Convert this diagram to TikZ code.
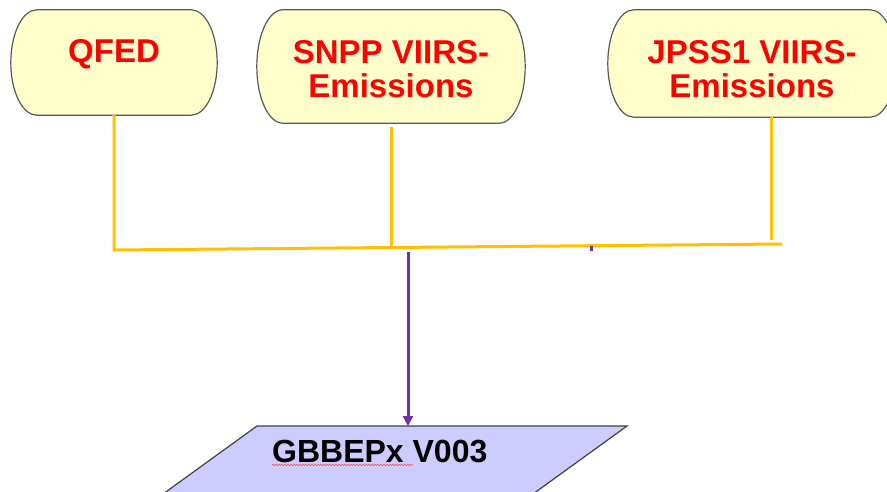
\documentclass[tikz,border=0pt]{standalone}
\usepackage{fontspec}
\setmainfont{Liberation Sans}
\usetikzlibrary{arrows.meta,calc,backgrounds,decorations.pathmorphing}
\definecolor{capfill}{HTML}{FFFFCC}
\definecolor{capedge}{HTML}{595959}
\definecolor{feedline}{HTML}{FFC000}
\definecolor{flowline}{HTML}{7030A0}
\definecolor{outfill}{HTML}{CCCCFF}
\definecolor{outedge}{HTML}{404040}
% capsule outline with elliptical ends round a node
\newcommand{\capsule}[1]{%
  \filldraw[capline] let \p1=(#1.north west), \p2=(#1.south east), \n1={(\y1-\y2)/2} in
    (\x1+26pt,\y1) -- (\x2-26pt,\y1)
    arc[start angle=90,end angle=-90,x radius=26pt,y radius=\n1]
    -- (\x1+26pt,\y2)
    arc[start angle=270,end angle=90,x radius=26pt,y radius=\n1] -- cycle;}
\begin{document}
\begin{tikzpicture}[x=1pt,y=-1pt,
src/.style={align=center,text=red,font=\fontsize{33}{34}\selectfont\bfseries},
capline/.style={fill=capfill,draw=capedge,line width=1.2pt},
feed/.style={draw=feedline,line width=3pt},
flow/.style={draw=flowline,line width=3pt},
outtext/.style={inner sep=0pt,font=\fontsize{32}{34}\selectfont\bfseries},
outline/.style={fill=outfill,draw=outedge,line width=1.2pt}]
\useasboundingbox (0,0) rectangle (887,491);
\node[src,minimum width=206pt,minimum height=105pt,text height=24pt,text depth=24.6pt](qfed) at (114,62.5){QFED};
\node[src,minimum width=268pt,minimum height=113pt,text height=61pt,text depth=0pt](snpp) at (391,66.5){SNPP VIIRS-\\Emissions};
\node[src,minimum width=288pt,minimum height=107pt,text height=67pt,text depth=0pt](jpss) at (752,63.5){JPSS1 VIIRS-\\Emissions};
\node[outtext,anchor=base west](gbb) at (272,462){GBBEPx V003};
\coordinate (busL) at (114,250);
\coordinate (busM) at (391,247);
\coordinate (busR) at (782,244);
\coordinate (jpssEnd) at (771,240);
\coordinate (tickT) at (591,246);
\coordinate (tickB) at (591,251);
\coordinate (flowS) at (408,252);
\coordinate (gtop) at (408,426);
\begin{scope}[on background layer]
\capsule{qfed}\capsule{snpp}\capsule{jpss}
\filldraw[outline] (257,426) -- (627,426) -- (497,520) -- (127,520) -- cycle;
\end{scope}
\draw[feed](qfed.south) -- (busL) -- (busR);
\draw[feed]([yshift=-4pt]snpp.south) -- (busM);
\draw[feed](jpss.south -| jpssEnd) -- (jpssEnd);
\draw[flow](tickT) -- (tickB);
\draw[flow,-{Triangle[length=10pt,width=10pt]}](flowS) -- (gtop);
\draw[red!70,line width=0.6pt,decorate,decoration={snake,amplitude=0.8pt,segment length=3pt}]([yshift=-3pt]gbb.base west) -- ++(141,0);
\end{tikzpicture}
\end{document}
